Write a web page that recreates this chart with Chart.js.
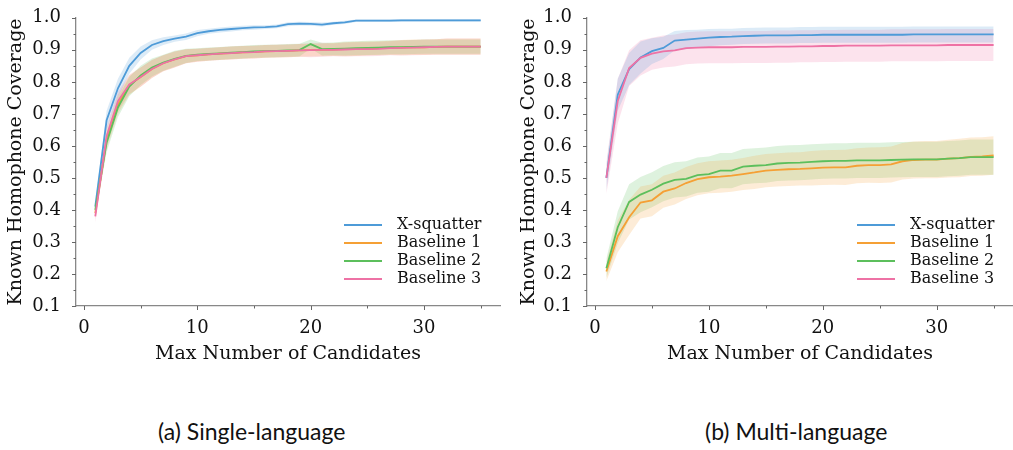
<!DOCTYPE html>
<html>
<head>
<meta charset="utf-8">
<script src="https://cdn.jsdelivr.net/npm/chart.js@4/dist/chart.umd.min.js"></script>
<style>
  body { margin: 0; background: #fff; }
  .panel { position: absolute; top: 0; height: 375px; }
  .caption { position: absolute; top: 417px; font-family: Lato, "Open Sans", sans-serif; font-size: 23px; color: #111; }
</style>
</head>
<body>
<div class="panel" style="left:0;width:505px"><canvas id="singleChart"></canvas></div>
<div class="panel" style="left:505px;width:508px"><canvas id="multiChart"></canvas></div>
<div class="caption" style="left:158px">(a) Single-language</div>
<div class="caption" style="left:705px">(b) Multi-language</div>
<script>
// x values (max number of candidates)
const candidates = [1,2,3,4,5,6,7,8,9,10,11,12,13,14,15,16,17,18,19,20,21,22,23,24,25,26,27,28,29,30,31,32,33,34,35];
const seriesNames = ['X-squatter', 'Baseline 1', 'Baseline 2', 'Baseline 3'];
const seriesColors = ['#4e9bd8', '#f5a035', '#5cbf5c', '#ee72a5'];
const yTicks = [0.1,0.15,0.2,0.25,0.3,0.35,0.4,0.45,0.5,0.55,0.6,0.65,0.7,0.75,0.8,0.85,0.9,0.95,1.0];
const xTicks = [0,5,10,15,20,25,30,35];

// (a) single-language: mean coverage
const singleXsq = [0.41,0.68,0.78,0.85,0.89,0.915,0.927,0.935,0.941,0.952,0.958,0.962,0.965,0.968,0.970,0.971,0.973,0.980,0.982,0.981,0.979,0.983,0.986,0.991,0.991,0.991,0.991,0.992,0.992,0.992,0.992,0.992,0.992,0.992,0.992];
const singleB1 = [0.39,0.62,0.73,0.79,0.815,0.84,0.858,0.870,0.880,0.883,0.886,0.888,0.890,0.892,0.893,0.895,0.896,0.897,0.898,0.899,0.900,0.901,0.902,0.903,0.904,0.905,0.906,0.907,0.908,0.908,0.909,0.910,0.910,0.910,0.910];
const singleB2 = [0.40,0.61,0.72,0.785,0.82,0.845,0.86,0.872,0.881,0.885,0.887,0.889,0.891,0.893,0.895,0.896,0.897,0.898,0.899,0.918,0.902,0.903,0.904,0.905,0.906,0.907,0.908,0.908,0.909,0.910,0.910,0.910,0.910,0.910,0.910];
const singleB3 = [0.38,0.63,0.74,0.792,0.815,0.84,0.858,0.870,0.880,0.883,0.886,0.888,0.890,0.892,0.893,0.895,0.896,0.897,0.898,0.899,0.900,0.900,0.901,0.902,0.902,0.903,0.905,0.906,0.907,0.908,0.909,0.910,0.910,0.910,0.910];
// (a) half-width of the shaded band
const singleXsqBand = [0.012,0.03,0.03,0.025,0.02,0.015,0.012,0.01,0.01,0.01,0.008,0.008,0.008,0.007,0.007,0.006,0.006,0.006,0.006,0.006,0.006,0.005,0.005,0.004,0.004,0.004,0.004,0.004,0.004,0.004,0.004,0.004,0.004,0.004,0.004];
const singleB1Band = [0.02,0.03,0.03,0.03,0.03,0.028,0.025,0.025,0.022,0.02,0.02,0.02,0.02,0.02,0.02,0.02,0.02,0.02,0.02,0.02,0.02,0.02,0.022,0.022,0.022,0.022,0.022,0.024,0.024,0.024,0.024,0.025,0.025,0.025,0.025];
const singleB2Band = [0.02,0.03,0.03,0.03,0.03,0.028,0.025,0.025,0.022,0.02,0.02,0.02,0.02,0.02,0.02,0.02,0.02,0.02,0.02,0.014,0.02,0.02,0.022,0.022,0.022,0.022,0.022,0.022,0.022,0.022,0.022,0.022,0.022,0.022,0.022];
const singleB3Band = [0.02,0.03,0.03,0.03,0.03,0.028,0.025,0.025,0.022,0.02,0.02,0.02,0.02,0.02,0.02,0.02,0.02,0.02,0.02,0.022,0.022,0.02,0.022,0.022,0.022,0.022,0.022,0.024,0.024,0.024,0.024,0.025,0.025,0.025,0.025];

// (b) multi-language: mean coverage
const multiXsq = [0.50,0.76,0.84,0.876,0.896,0.906,0.929,0.932,0.935,0.938,0.940,0.941,0.943,0.944,0.945,0.945,0.945,0.946,0.946,0.947,0.947,0.947,0.947,0.947,0.947,0.947,0.947,0.948,0.948,0.948,0.948,0.948,0.948,0.948,0.948];
const multiB1 = [0.208,0.318,0.377,0.423,0.43,0.457,0.467,0.484,0.496,0.502,0.504,0.507,0.512,0.517,0.523,0.525,0.527,0.528,0.530,0.532,0.533,0.533,0.538,0.540,0.540,0.542,0.552,0.556,0.557,0.557,0.560,0.562,0.566,0.567,0.570];
const multiB2 = [0.218,0.346,0.425,0.448,0.463,0.482,0.494,0.497,0.509,0.512,0.523,0.523,0.535,0.538,0.540,0.545,0.547,0.548,0.550,0.552,0.553,0.553,0.555,0.555,0.555,0.556,0.557,0.558,0.558,0.558,0.560,0.562,0.565,0.565,0.565];
const multiB3 = [0.50,0.74,0.843,0.875,0.888,0.895,0.898,0.905,0.907,0.908,0.908,0.908,0.909,0.909,0.909,0.910,0.910,0.911,0.911,0.912,0.912,0.913,0.913,0.913,0.913,0.914,0.914,0.914,0.914,0.914,0.915,0.915,0.915,0.915,0.915];
// (b) half-width of the shaded band
const multiXsqBand = [0.04,0.05,0.05,0.05,0.04,0.035,0.03,0.03,0.028,0.027,0.026,0.025,0.025,0.025,0.025,0.025,0.025,0.025,0.025,0.025,0.025,0.025,0.025,0.025,0.025,0.025,0.025,0.025,0.025,0.025,0.025,0.025,0.025,0.025,0.025];
const multiB1Band = [0.03,0.05,0.055,0.05,0.05,0.05,0.05,0.05,0.05,0.05,0.05,0.05,0.05,0.052,0.052,0.052,0.052,0.052,0.054,0.054,0.054,0.055,0.055,0.055,0.056,0.056,0.057,0.058,0.058,0.058,0.059,0.06,0.06,0.06,0.06];
const multiB2Band = [0.03,0.05,0.055,0.055,0.055,0.055,0.055,0.055,0.055,0.055,0.055,0.055,0.055,0.055,0.055,0.055,0.055,0.055,0.055,0.055,0.055,0.055,0.055,0.055,0.055,0.055,0.055,0.055,0.055,0.055,0.055,0.055,0.055,0.055,0.055];
const multiB3Band = [0.05,0.07,0.056,0.055,0.05,0.05,0.05,0.05,0.05,0.05,0.05,0.05,0.05,0.05,0.05,0.05,0.05,0.05,0.05,0.05,0.05,0.05,0.05,0.05,0.05,0.05,0.05,0.05,0.05,0.05,0.05,0.05,0.05,0.05,0.05];

const serif = "'DejaVu Serif', serif";

function rgba(hex, a) {
  const n = parseInt(hex.slice(1), 16);
  return `rgba(${n >> 16}, ${(n >> 8) & 255}, ${n & 255}, ${a})`;
}

// matplotlib-like outward ticks, long for labelled, short for minor
const tickMarks = {
  id: 'tickMarks',
  afterDraw(chart) {
    const ctx = chart.ctx;
    ctx.save();
    ctx.strokeStyle = '#666';
    ctx.lineWidth = 1;
    const xs = chart.scales.x, ys = chart.scales.y;
    xs.ticks.forEach(t => {
      const px = Math.round(xs.getPixelForValue(t.value)) + 0.5;
      const len = t.value % 10 === 0 ? 4 : 2.5;
      ctx.beginPath(); ctx.moveTo(px, xs.top); ctx.lineTo(px, xs.top + len); ctx.stroke();
    });
    ys.ticks.forEach(t => {
      const py = Math.round(ys.getPixelForValue(t.value)) + 0.5;
      const len = Math.round(t.value * 100) % 10 === 0 ? 4 : 2.5;
      ctx.beginPath(); ctx.moveTo(ys.right, py); ctx.lineTo(ys.right - len, py); ctx.stroke();
    });
    ctx.restore();
  }
};

// legend in lower right corner of the plot
const cornerLegend = {
  id: 'cornerLegend',
  afterDraw(chart) {
    const ctx = chart.ctx;
    const area = chart.chartArea;
    const items = chart.data.datasets.filter(d => d.isMain);
    ctx.save();
    ctx.font = '16px ' + serif;
    ctx.textBaseline = 'middle';
    items.forEach((d, i) => {
      const y = area.bottom - 81 + i * 18;
      ctx.strokeStyle = d.borderColor;
      ctx.lineWidth = 2;
      ctx.beginPath(); ctx.moveTo(area.right - 156, y); ctx.lineTo(area.right - 118, y); ctx.stroke();
      ctx.fillStyle = '#111';
      ctx.fillText(d.label, area.right - 103, y);
    });
    ctx.restore();
  }
};

function buildDatasets(means, bands) {
  const sets = [];
  means.forEach((m, i) => {
    const lo = m.map((v, k) => ({ x: candidates[k], y: v - bands[i][k] }));
    const hi = m.map((v, k) => ({ x: candidates[k], y: v + bands[i][k] }));
    sets.push({ data: lo, borderWidth: 0, pointRadius: 0, fill: false, order: 10 });
    sets.push({ data: hi, borderWidth: 0, pointRadius: 0, fill: '-1', backgroundColor: rgba(seriesColors[i], 0.2), order: 10 });
  });
  means.forEach((m, i) => {
    sets.push({
      label: seriesNames[i],
      isMain: true,
      data: m.map((v, k) => ({ x: candidates[k], y: v })),
      borderColor: seriesColors[i],
      borderWidth: 1.8,
      pointRadius: 0,
      fill: false,
      order: 4 - i
    });
  });
  return sets;
}

function drawPanel(id, means, bands, yWidth, titlePad, rightPad) {
  const ctx = document.getElementById(id)?.getContext('2d');
  if (!ctx) {
    console.error('chart element not found');
    return;
  }
  return new Chart(ctx, {
    type: 'line',
    data: { datasets: buildDatasets(means, bands) },
    plugins: [tickMarks, cornerLegend],
    options: {
      responsive: true,
      maintainAspectRatio: false,
      animation: false,
      layout: { padding: { left: 0, right: rightPad, top: 11, bottom: 0 } },
      plugins: { legend: { display: false }, tooltip: { enabled: false } },
      scales: {
        x: {
          type: 'linear',
          min: -0.7,
          max: 36.7,
          afterBuildTicks: s => { s.ticks = xTicks.map(v => ({ value: v })); },
          afterFit: s => { s.height = 69; },
          grid: { display: false },
          border: { color: '#888', width: 1.3 },
          ticks: {
            autoSkip: false,
            maxRotation: 0,
            padding: 4,
            color: '#111',
            font: { family: serif, size: 18 },
            callback: v => (v % 10 === 0 ? String(v) : '')
          },
          title: {
            display: true,
            text: 'Max Number of Candidates',
            color: '#111',
            font: { family: serif, size: 19 },
            padding: { top: 0, bottom: 10 }
          }
        },
        y: {
          type: 'linear',
          min: 0.1,
          max: 1.0,
          afterBuildTicks: s => { s.ticks = yTicks.map(v => ({ value: v })); },
          afterFit: s => { s.width = yWidth; },
          grid: { display: false },
          border: { color: '#888', width: 1.3 },
          ticks: {
            autoSkip: false,
            padding: 7,
            color: '#111',
            font: { family: serif, size: 18 },
            callback: v => (Math.round(v * 100) % 10 === 0 ? v.toFixed(1) : '')
          },
          title: {
            display: true,
            text: 'Known Homophone Coverage',
            color: '#111',
            font: { family: serif, size: 19 },
            padding: { top: titlePad, bottom: 0 }
          }
        }
      }
    }
  });
}

drawPanel('singleChart', [singleXsq, singleB1, singleB2, singleB3],
  [singleXsqBand, singleB1Band, singleB2Band, singleB3Band], 76, 5, 5);
drawPanel('multiChart', [multiXsq, multiB1, multiB2, multiB3],
  [multiXsqBand, multiB1Band, multiB2Band, multiB3Band], 82, 13, 0);
</script>
</body>
</html>
